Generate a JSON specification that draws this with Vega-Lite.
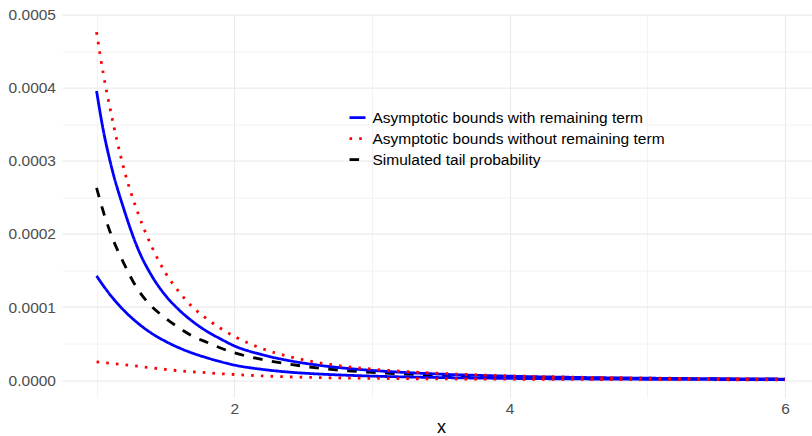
{
  "$schema": "https://vega.github.io/schema/vega-lite/v6.json",
  "width": 750,
  "height": 383,
  "autosize": {"type": "none"},
  "padding": {"left": 62, "top": 14.6, "right": 0, "bottom": 38.4},
  "background": "white",
  "config": {"font": "Liberation Sans", "view": {"stroke": null}},
  "data": {"values": [
    {"s":"Simulated tail probability","c":"bk","x":1,"y":0.000263},
    {"s":"Simulated tail probability","c":"bk","x":1.05,"y":0.00023},
    {"s":"Simulated tail probability","c":"bk","x":1.1,"y":0.000202},
    {"s":"Simulated tail probability","c":"bk","x":1.2,"y":0.000159},
    {"s":"Simulated tail probability","c":"bk","x":1.3,"y":0.000124},
    {"s":"Simulated tail probability","c":"bk","x":1.4,"y":0.000101},
    {"s":"Simulated tail probability","c":"bk","x":1.5,"y":0.000085},
    {"s":"Simulated tail probability","c":"bk","x":1.6,"y":0.0000715},
    {"s":"Simulated tail probability","c":"bk","x":1.7,"y":0.00006},
    {"s":"Simulated tail probability","c":"bk","x":1.8,"y":0.000052},
    {"s":"Simulated tail probability","c":"bk","x":1.9,"y":0.000044},
    {"s":"Simulated tail probability","c":"bk","x":2.0,"y":0.0000375},
    {"s":"Simulated tail probability","c":"bk","x":2.2,"y":0.0000284},
    {"s":"Simulated tail probability","c":"bk","x":2.4,"y":0.0000219},
    {"s":"Simulated tail probability","c":"bk","x":2.6,"y":0.0000168},
    {"s":"Simulated tail probability","c":"bk","x":2.8,"y":0.0000132},
    {"s":"Simulated tail probability","c":"bk","x":3.0,"y":0.0000106},
    {"s":"Simulated tail probability","c":"bk","x":3.5,"y":0.0000067},
    {"s":"Simulated tail probability","c":"bk","x":4.0,"y":0.0000045},
    {"s":"Simulated tail probability","c":"bk","x":4.5,"y":0.00000315},
    {"s":"Simulated tail probability","c":"bk","x":5.0,"y":0.0000023},
    {"s":"Simulated tail probability","c":"bk","x":5.5,"y":0.00000173},
    {"s":"Simulated tail probability","c":"bk","x":6.0,"y":0.00000133},
    {"s":"Asymptotic bounds with remaining term","c":"bu","x":1,"y":0.0003954},
    {"s":"Asymptotic bounds with remaining term","c":"bu","x":1.05,"y":0.0003407},
    {"s":"Asymptotic bounds with remaining term","c":"bu","x":1.1,"y":0.000298},
    {"s":"Asymptotic bounds with remaining term","c":"bu","x":1.2,"y":0.000233},
    {"s":"Asymptotic bounds with remaining term","c":"bu","x":1.3,"y":0.00018},
    {"s":"Asymptotic bounds with remaining term","c":"bu","x":1.4,"y":0.000143},
    {"s":"Asymptotic bounds with remaining term","c":"bu","x":1.5,"y":0.000116},
    {"s":"Asymptotic bounds with remaining term","c":"bu","x":1.6,"y":0.000096},
    {"s":"Asymptotic bounds with remaining term","c":"bu","x":1.7,"y":0.00008},
    {"s":"Asymptotic bounds with remaining term","c":"bu","x":1.8,"y":0.000067},
    {"s":"Asymptotic bounds with remaining term","c":"bu","x":1.9,"y":0.0000565},
    {"s":"Asymptotic bounds with remaining term","c":"bu","x":2.0,"y":0.000047},
    {"s":"Asymptotic bounds with remaining term","c":"bu","x":2.2,"y":0.000035},
    {"s":"Asymptotic bounds with remaining term","c":"bu","x":2.4,"y":0.0000267},
    {"s":"Asymptotic bounds with remaining term","c":"bu","x":2.6,"y":0.0000208},
    {"s":"Asymptotic bounds with remaining term","c":"bu","x":2.8,"y":0.0000165},
    {"s":"Asymptotic bounds with remaining term","c":"bu","x":3.0,"y":0.0000134},
    {"s":"Asymptotic bounds with remaining term","c":"bu","x":3.5,"y":0.00000827},
    {"s":"Asymptotic bounds with remaining term","c":"bu","x":4.0,"y":0.00000548},
    {"s":"Asymptotic bounds with remaining term","c":"bu","x":4.5,"y":0.00000381},
    {"s":"Asymptotic bounds with remaining term","c":"bu","x":5.0,"y":0.00000274},
    {"s":"Asymptotic bounds with remaining term","c":"bu","x":5.5,"y":0.00000205},
    {"s":"Asymptotic bounds with remaining term","c":"bu","x":6.0,"y":0.00000156},
    {"s":"Asymptotic bounds with remaining term","c":"bl","x":1,"y":0.0001427},
    {"s":"Asymptotic bounds with remaining term","c":"bl","x":1.05,"y":0.000129},
    {"s":"Asymptotic bounds with remaining term","c":"bl","x":1.1,"y":0.0001165},
    {"s":"Asymptotic bounds with remaining term","c":"bl","x":1.2,"y":0.0000952},
    {"s":"Asymptotic bounds with remaining term","c":"bl","x":1.3,"y":0.000078},
    {"s":"Asymptotic bounds with remaining term","c":"bl","x":1.4,"y":0.0000641},
    {"s":"Asymptotic bounds with remaining term","c":"bl","x":1.5,"y":0.0000532},
    {"s":"Asymptotic bounds with remaining term","c":"bl","x":1.6,"y":0.0000442},
    {"s":"Asymptotic bounds with remaining term","c":"bl","x":1.7,"y":0.0000368},
    {"s":"Asymptotic bounds with remaining term","c":"bl","x":1.8,"y":0.0000307},
    {"s":"Asymptotic bounds with remaining term","c":"bl","x":1.9,"y":0.0000253},
    {"s":"Asymptotic bounds with remaining term","c":"bl","x":2.0,"y":0.0000207},
    {"s":"Asymptotic bounds with remaining term","c":"bl","x":2.2,"y":0.0000149},
    {"s":"Asymptotic bounds with remaining term","c":"bl","x":2.4,"y":0.000011},
    {"s":"Asymptotic bounds with remaining term","c":"bl","x":2.6,"y":0.0000086},
    {"s":"Asymptotic bounds with remaining term","c":"bl","x":2.8,"y":0.0000069},
    {"s":"Asymptotic bounds with remaining term","c":"bl","x":3.0,"y":0.0000056},
    {"s":"Asymptotic bounds with remaining term","c":"bl","x":3.5,"y":0.0000036},
    {"s":"Asymptotic bounds with remaining term","c":"bl","x":4.0,"y":0.00000245},
    {"s":"Asymptotic bounds with remaining term","c":"bl","x":4.5,"y":0.00000175},
    {"s":"Asymptotic bounds with remaining term","c":"bl","x":5.0,"y":0.0000013},
    {"s":"Asymptotic bounds with remaining term","c":"bl","x":5.5,"y":0.00000098},
    {"s":"Asymptotic bounds with remaining term","c":"bl","x":6.0,"y":0.00000076},
    {"s":"Asymptotic bounds without remaining term","c":"ru","x":1,"y":0.000476},
    {"s":"Asymptotic bounds without remaining term","c":"ru","x":1.05,"y":0.000418},
    {"s":"Asymptotic bounds without remaining term","c":"ru","x":1.1,"y":0.00037},
    {"s":"Asymptotic bounds without remaining term","c":"ru","x":1.2,"y":0.000288},
    {"s":"Asymptotic bounds without remaining term","c":"ru","x":1.3,"y":0.000229},
    {"s":"Asymptotic bounds without remaining term","c":"ru","x":1.4,"y":0.000183},
    {"s":"Asymptotic bounds without remaining term","c":"ru","x":1.5,"y":0.000147},
    {"s":"Asymptotic bounds without remaining term","c":"ru","x":1.6,"y":0.0001205},
    {"s":"Asymptotic bounds without remaining term","c":"ru","x":1.7,"y":0.0000995},
    {"s":"Asymptotic bounds without remaining term","c":"ru","x":1.8,"y":0.000084},
    {"s":"Asymptotic bounds without remaining term","c":"ru","x":1.9,"y":0.000071},
    {"s":"Asymptotic bounds without remaining term","c":"ru","x":2.0,"y":0.00006},
    {"s":"Asymptotic bounds without remaining term","c":"ru","x":2.2,"y":0.0000434},
    {"s":"Asymptotic bounds without remaining term","c":"ru","x":2.4,"y":0.0000323},
    {"s":"Asymptotic bounds without remaining term","c":"ru","x":2.6,"y":0.0000244},
    {"s":"Asymptotic bounds without remaining term","c":"ru","x":2.8,"y":0.0000189},
    {"s":"Asymptotic bounds without remaining term","c":"ru","x":3.0,"y":0.0000152},
    {"s":"Asymptotic bounds without remaining term","c":"ru","x":3.5,"y":0.0000093},
    {"s":"Asymptotic bounds without remaining term","c":"ru","x":4.0,"y":0.000006},
    {"s":"Asymptotic bounds without remaining term","c":"ru","x":4.5,"y":0.0000041},
    {"s":"Asymptotic bounds without remaining term","c":"ru","x":5.0,"y":0.000003},
    {"s":"Asymptotic bounds without remaining term","c":"ru","x":5.5,"y":0.0000022},
    {"s":"Asymptotic bounds without remaining term","c":"ru","x":6.0,"y":0.00000165},
    {"s":"Asymptotic bounds without remaining term","c":"rl","x":1,"y":0.000025},
    {"s":"Asymptotic bounds without remaining term","c":"rl","x":1.05,"y":0.0000242},
    {"s":"Asymptotic bounds without remaining term","c":"rl","x":1.1,"y":0.0000232},
    {"s":"Asymptotic bounds without remaining term","c":"rl","x":1.2,"y":0.0000212},
    {"s":"Asymptotic bounds without remaining term","c":"rl","x":1.3,"y":0.0000191},
    {"s":"Asymptotic bounds without remaining term","c":"rl","x":1.4,"y":0.0000168},
    {"s":"Asymptotic bounds without remaining term","c":"rl","x":1.5,"y":0.0000148},
    {"s":"Asymptotic bounds without remaining term","c":"rl","x":1.6,"y":0.0000129},
    {"s":"Asymptotic bounds without remaining term","c":"rl","x":1.7,"y":0.0000115},
    {"s":"Asymptotic bounds without remaining term","c":"rl","x":1.8,"y":0.0000102},
    {"s":"Asymptotic bounds without remaining term","c":"rl","x":1.9,"y":0.0000089},
    {"s":"Asymptotic bounds without remaining term","c":"rl","x":2.0,"y":0.0000078},
    {"s":"Asymptotic bounds without remaining term","c":"rl","x":2.2,"y":0.0000059},
    {"s":"Asymptotic bounds without remaining term","c":"rl","x":2.4,"y":0.0000045},
    {"s":"Asymptotic bounds without remaining term","c":"rl","x":2.6,"y":0.0000036},
    {"s":"Asymptotic bounds without remaining term","c":"rl","x":2.8,"y":0.00000295},
    {"s":"Asymptotic bounds without remaining term","c":"rl","x":3.0,"y":0.0000025},
    {"s":"Asymptotic bounds without remaining term","c":"rl","x":3.5,"y":0.0000018},
    {"s":"Asymptotic bounds without remaining term","c":"rl","x":4.0,"y":0.00000135},
    {"s":"Asymptotic bounds without remaining term","c":"rl","x":4.5,"y":0.00000105},
    {"s":"Asymptotic bounds without remaining term","c":"rl","x":5.0,"y":0.00000083},
    {"s":"Asymptotic bounds without remaining term","c":"rl","x":5.5,"y":0.00000067},
    {"s":"Asymptotic bounds without remaining term","c":"rl","x":6.0,"y":0.00000055}
  ]},
  "layer": [
    {
      "mark": {"type": "point", "opacity": 0},
      "encoding": {
        "x": {"field": "x", "type": "quantitative",
          "scale": {"domain": [0.749, 6.196], "nice": false, "zero": false},
          "axis": {"orient": "bottom", "values": [1, 3, 5], "grid": true, "gridColor": "#EBEBEB", "gridWidth": 0.6, "labels": false, "ticks": false, "domain": false, "title": null}},
        "y": {"field": "y", "type": "quantitative",
          "scale": {"domain": [-0.0000238, 0.0005], "nice": false, "zero": false},
          "axis": {"orient": "left", "values": [0.00005, 0.00015, 0.00025, 0.00035, 0.00045], "grid": true, "gridColor": "#EBEBEB", "gridWidth": 0.6, "labels": false, "ticks": false, "domain": false, "title": null}}
      }
    },
    {
      "mark": {"type": "line", "strokeWidth": 2.8, "interpolate": "monotone", "strokeCap": "butt"},
      "encoding": {
        "x": {"field": "x", "type": "quantitative",
          "axis": {"orient": "bottom", "values": [2, 4, 6], "grid": true, "gridColor": "#EBEBEB", "gridWidth": 1.1, "ticks": false, "tickSize": 0, "domain": false,
            "labelFontSize": 15.5, "labelColor": "#4D4D4D", "labelPadding": 4, "labelFlush": false,
            "title": "x", "titleFontSize": 18, "titleFontWeight": "normal", "titleColor": "#000000", "titleX": 379, "titleY": 34.6, "titleBaseline": "alphabetic", "titleAlign": "center"}},
        "y": {"field": "y", "type": "quantitative",
          "axis": {"orient": "left", "values": [0, 0.0001, 0.0002, 0.0003, 0.0004, 0.0005], "format": ".4f", "grid": true, "gridColor": "#EBEBEB", "gridWidth": 1.1, "ticks": false, "tickSize": 0, "domain": false,
            "labelFontSize": 15.5, "labelColor": "#4D4D4D", "labelPadding": 6.5, "title": null}},
        "color": {"field": "s", "type": "nominal",
          "scale": {"domain": ["Asymptotic bounds with remaining term", "Asymptotic bounds without remaining term", "Simulated tail probability"], "range": ["#0000FF", "#FF0000", "#000000"]},
          "legend": {"orient": "none", "legendX": 286, "legendY": 93.5, "title": null, "padding": 0, "labelFontSize": 15.5, "labelLimit": 0, "labelColor": "#000000", "symbolType": "stroke", "symbolSize": 256, "symbolStrokeWidth": 2.8, "labelOffset": 5.5, "rowPadding": 3}},
        "strokeDash": {"field": "s", "type": "nominal",
          "scale": {"domain": ["Asymptotic bounds with remaining term", "Asymptotic bounds without remaining term", "Simulated tail probability"], "range": [[1, 0], [2.6, 7.1], [9.6, 9.4]]},
          "legend": {"orient": "none", "legendX": 286, "legendY": 93.5, "title": null, "padding": 0, "labelFontSize": 15.5, "labelLimit": 0, "labelColor": "#000000", "symbolType": "stroke", "symbolSize": 256, "symbolStrokeWidth": 2.8, "labelOffset": 5.5, "rowPadding": 3}},
        "detail": {"field": "c", "type": "nominal"}
      }
    }
  ],
  "resolve": {"axis": {"x": "independent", "y": "independent"}}
}
